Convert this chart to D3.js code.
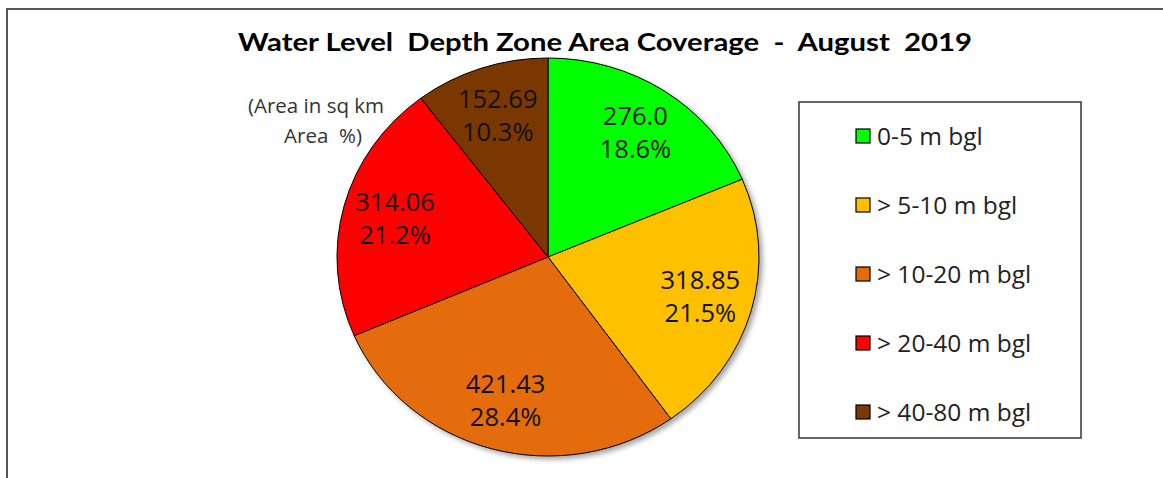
<!DOCTYPE html>
<html>
<head>
<meta charset="utf-8">
<script src="https://cdn.jsdelivr.net/npm/d3@7"></script>
<style>
  html, body { margin: 0; padding: 0; background: #fff; }
  svg { display: block; font-family: "Open Sans", Lato, sans-serif; }
</style>
</head>
<body>
<svg id="chart" width="1163" height="478"></svg>
<script>
// ---- data ----
const categories = ["0-5 m bgl", "> 5-10 m bgl", "> 10-20 m bgl", "> 20-40 m bgl", "> 40-80 m bgl"];
const values = [276.0, 318.85, 421.43, 314.06, 152.69];
const valueLabels = ["276.0", "318.85", "421.43", "314.06", "152.69"];
const colors = ["#00FF00", "#FFC000", "#E46C0A", "#FF0000", "#7A3904"];
const titleText = "Water Level  Depth Zone Area Coverage  -  August  2019";
const noteLines = ["(Area in sq km", "Area  %)"];

// ---- layout ----
const svg = d3.select("#chart");
const W = 1163, H = 478;
const cx = 548, cy = 257, R = 199, sx = 211 / 199;

const defs = svg.append("defs");
const f = defs.append("filter").attr("id", "shadow").attr("x", "-20%").attr("y", "-20%").attr("width", "140%").attr("height", "140%");
f.append("feDropShadow").attr("dx", 3).attr("dy", 3).attr("stdDeviation", 2.5)
  .attr("flood-color", "#000").attr("flood-opacity", 0.35);

// outer frame (cropped at right and bottom)
svg.append("rect")
  .attr("x", 7).attr("y", 9).attr("width", W + 20).attr("height", H + 20)
  .attr("fill", "none").attr("stroke", "#555").attr("stroke-width", 2);

// title
svg.append("text")
  .attr("x", 605).attr("y", 51)
  .attr("text-anchor", "middle")
  .attr("font-family", "Lato, sans-serif")
  .attr("font-size", 25).attr("font-weight", "bold")
  .attr("fill", "#000")
  .attr("textLength", 734).attr("lengthAdjust", "spacingAndGlyphs")
  .style("white-space", "pre")
  .text(titleText);

// pie
const total = d3.sum(values);
const pie = d3.pie().sort(null).value(d => d)(values);
const arc = d3.arc().innerRadius(0).outerRadius(R);
const labelArc = d3.arc().innerRadius(R * 0.75).outerRadius(R * 0.75);

const pg = svg.append("g")
  .attr("transform", `translate(${cx},${cy}) scale(${sx},1)`)
  .attr("filter", "url(#shadow)");
pg.selectAll("path").data(pie).join("path")
  .attr("d", arc)
  .attr("fill", (d, i) => colors[i])
  .attr("stroke", "#000")
  .attr("stroke-width", 1)
  .attr("vector-effect", "non-scaling-stroke");

const fmtPct = d3.format(".1%");
const lg = svg.append("g").attr("transform", `translate(${cx},${cy})`);
pie.forEach((d, i) => {
  const c = labelArc.centroid(d);
  const x = c[0] * sx, y = c[1];
  const t = lg.append("text")
    .attr("text-anchor", "middle")
    .attr("font-size", 25.5)
    .attr("fill", "#111");
  t.append("tspan").attr("x", x).attr("y", y - 16 + 8).text(valueLabels[i]);
  t.append("tspan").attr("x", x).attr("y", y + 17 + 8).text(fmtPct(values[i] / total));
});

// annotation
const note = svg.append("g");
note.append("text").attr("x", 316).attr("y", 113).attr("text-anchor", "middle")
  .attr("font-size", 20.5).attr("fill", "#333").style("white-space", "pre").text(noteLines[0]);
note.append("text").attr("x", 323).attr("y", 143).attr("text-anchor", "middle")
  .attr("font-size", 20.5).attr("fill", "#333").style("white-space", "pre").text(noteLines[1]);

// legend
svg.append("rect")
  .attr("x", 799).attr("y", 102).attr("width", 282).attr("height", 336)
  .attr("fill", "#fff").attr("stroke", "#333").attr("stroke-width", 1.5);

const ly = d3.scalePoint().domain(categories).range([136, 412]);
const items = svg.append("g").selectAll("g").data(categories).join("g")
  .attr("transform", d => `translate(856,${ly(d)})`);
items.append("rect")
  .attr("x", 0).attr("y", -7).attr("width", 14).attr("height", 14)
  .attr("fill", (d, i) => colors[i]).attr("stroke", "#000").attr("stroke-width", 1.2);
items.append("text")
  .attr("x", 21).attr("y", 9)
  .attr("font-size", 24.5).attr("fill", "#222")
  .text(d => d);
</script>
</body>
</html>
